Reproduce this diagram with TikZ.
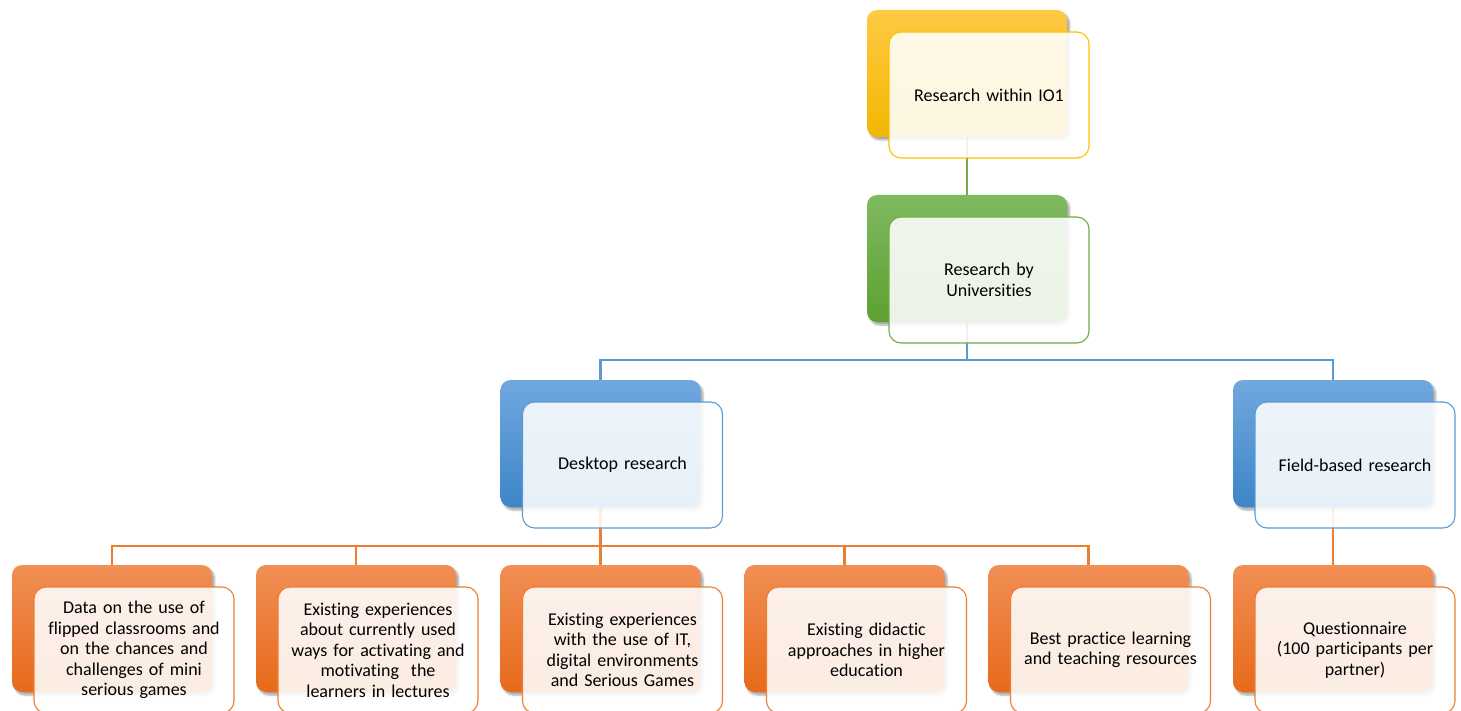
\documentclass[tikz,border=0pt]{standalone}
\usepackage{fontspec}
\setmainfont{Carlito}[Ligatures=CommonOff]
\usetikzlibrary{shadows.blur}
\pgfdeclarelayer{bg}
\pgfsetlayers{bg,main}
\definecolor{goldT}{HTML}{FFCA45}\definecolor{goldB}{HTML}{F2B700}\definecolor{goldL}{HTML}{FFC000}
\definecolor{greenT}{HTML}{80BA60}\definecolor{greenB}{HTML}{5EA030}\definecolor{greenL}{HTML}{70AD47}
\definecolor{blueT}{HTML}{70A8DE}\definecolor{blueB}{HTML}{3E85C8}\definecolor{blueL}{HTML}{5B9BD5}
\definecolor{orT}{HTML}{F18F55}\definecolor{orB}{HTML}{E86A1A}\definecolor{orL}{HTML}{ED7D31}
\tikzset{
  backbox/.style={rounded corners=10pt, minimum width=200pt, minimum height=127pt, inner sep=0pt,
    blur shadow={shadow xshift=2.5pt, shadow yshift=-3pt, shadow blur steps=6, shadow opacity=35}},
  frontbox/.style={line width=1.1pt, rounded corners=12pt, fill=white, fill opacity=0.88,
    text opacity=1, minimum width=200pt, minimum height=126pt, align=center, text width=192pt,
    inner sep=0pt, font=\fontsize{18}{20.5}\selectfont},
  conn/.style={line width=2.2pt}
}
\newcommand\unitbox[5]{%
  \node[backbox, top color=#4T, bottom color=#4B] (#1b) at (#2,#3) {};
  \node[frontbox, draw=#4L] (#1) at (#2+22,#3+21.5) {#5};
}
\begin{document}
\begin{tikzpicture}[x=1pt,y=-1pt]
\useasboundingbox (0,0) rectangle (1461,711);
\unitbox{t1}{967}{73.5}{gold}{Research within IO1}
\unitbox{t2}{967}{258.5}{green}{Research by\\Universities}
\unitbox{d}{600.5}{443.5}{blue}{Desktop research}
\unitbox{f}{1333}{443.5}{blue}{Field-based research}
\unitbox{la}{112}{628.5}{or}{Data on the use of\\flipped classrooms and\\on the chances and\\challenges of mini\\serious games}
\unitbox{lb}{356}{628.5}{or}{Existing experiences\\about currently used\\ways for activating and\\motivating~ the\\learners in lectures}
\unitbox{lc}{600.5}{628.5}{or}{Existing experiences\\with the use of IT,\\digital environments\\and Serious Games}
\unitbox{ld}{844.5}{628.5}{or}{Existing didactic\\approaches in higher\\education}
\unitbox{le}{1088.5}{628.5}{or}{Best practice learning\\and teaching resources}
\unitbox{lf}{1333}{628.5}{or}{Questionnaire\\(100 participants per\\partner)}
\coordinate (bj) at (967,360);
\coordinate (oj) at (600.5,546);
\begin{pgfonlayer}{bg}
\draw[conn, greenL] (t1b.south) -- (t2b.north);
\draw[conn, blueL] (t2b.south) -- (bj) -| (db.north);
\draw[conn, blueL] (bj) -| (fb.north);
\draw[conn, orL] (db.south) -- (oj);
\draw[conn, orL] (oj) -| (lab.north);
\draw[conn, orL] (oj) -| (lbb.north);
\draw[conn, orL] (oj) -- (lcb.north);
\draw[conn, orL] (oj) -| (ldb.north);
\draw[conn, orL] (oj) -| (leb.north);
\draw[conn, orL] (fb.south) -- (lfb.north);
\end{pgfonlayer}
\end{tikzpicture}
\end{document}
